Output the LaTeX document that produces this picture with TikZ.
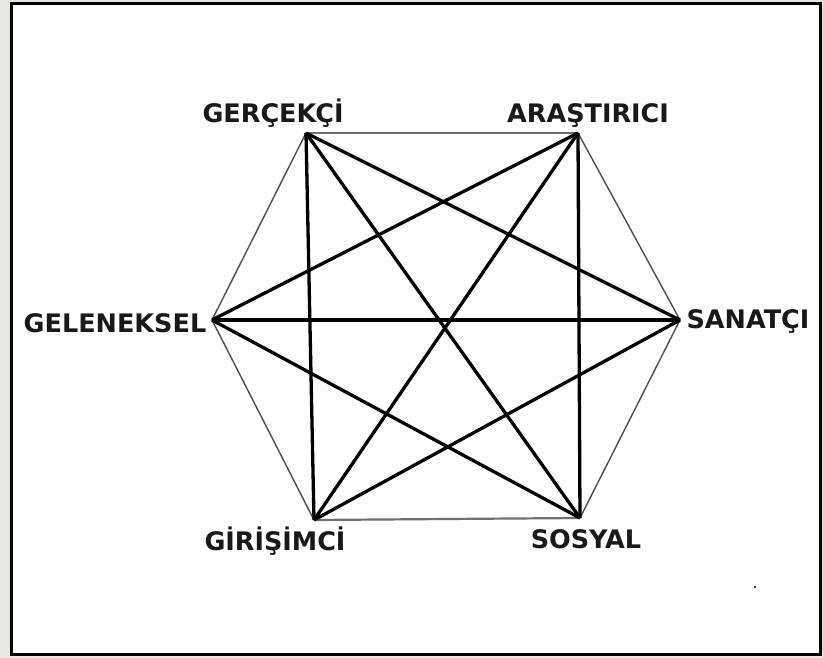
\documentclass[tikz,border=0pt]{standalone}
\usepackage{fontspec}
\setsansfont{DejaVu Sans}
\usetikzlibrary{positioning}
\definecolor{figframe}{gray}{0.0}
\definecolor{figstrip}{RGB}{232,230,225}
\definecolor{figedge}{gray}{0.30}

\begin{document}
\begin{tikzpicture}[
    x=1pt, y=-1pt,
    font=\fontsize{25.5}{29}\selectfont\sffamily\bfseries,
    lbl/.style={inner sep=0pt, anchor=base, text=black!90},
    rim/.style={draw=figedge, line width=1.4pt},
    rimh/.style={draw=figedge!80, line width=2.2pt},
    diag/.style={draw=black, line width=3.3pt}
]
    % page, strip and frame
    \fill[figstrip] (0,0) rectangle (823,658);
    \fill[white] (10,2) rectangle (821,656);
    \draw[figframe, line width=3pt] (11.5,3.5) rectangle (820.5,654.5);
    \useasboundingbox (0,0) rectangle (823,658);

    % corners of the hexagon
    \coordinate (ger) at (306,133);
    \coordinate (ara) at (578,133);
    \coordinate (san) at (680,320);
    \coordinate (sos) at (580,518);
    \coordinate (gir) at (314,520);
    \coordinate (gel) at (212,320);

    \node[lbl] (gerl) at (273,123) {GERÇEKÇİ};
    \node[lbl] (aral) at (588,123) {ARAŞTIRICI};
    \node[lbl] (sanl) at (748,328) {SANATÇI};
    \node[lbl] (sosl) at (586,548) {SOSYAL};
    \node[lbl] (girl) at (275,550) {GİRİŞİMCİ};
    \node[lbl] (gell) at (115,332) {GELENEKSEL};

    % outer ring
    \draw[rimh] (ger) -- (ara);
    \draw[rim] (ara) -- (san);
    \draw[rim] (san) -- (sos);
    \draw[rimh] (sos) -- (gir);
    \draw[rim] (gir) -- (gel);
    \draw[rim] (gel) -- (ger);

    % all diagonals
    \draw[diag] (ger) -- (gir);
    \draw[diag] (ger) -- (san);
    \draw[diag] (ger) -- (sos);
    \draw[diag] (ara) -- (gel);
    \draw[diag] (ara) -- (gir);
    \draw[diag] (ara) -- (sos);
    \draw[diag] (gel) -- (san);
    \draw[diag] (gel) -- (sos);
    \draw[diag] (gir) -- (san);

    \fill[black!80] (755,587) circle (1.3);
\end{tikzpicture}
\end{document}
